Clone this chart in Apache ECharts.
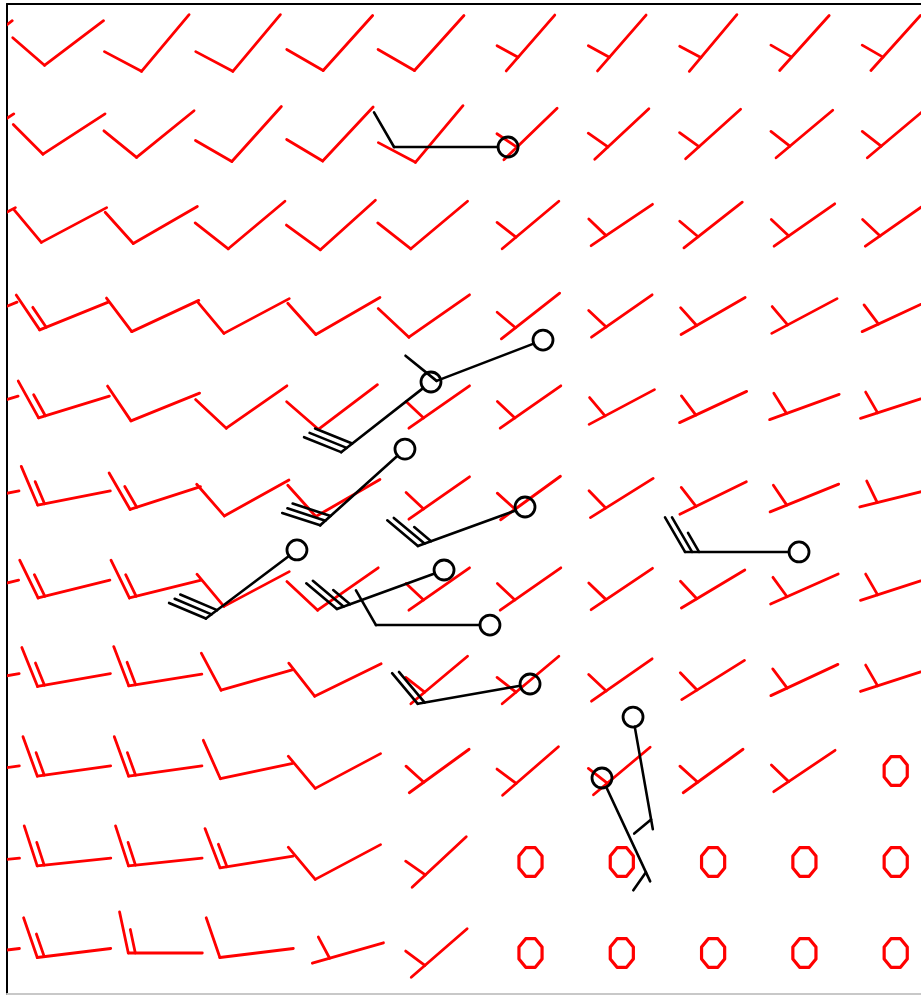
<!DOCTYPE html>
<html>
<head>
<meta charset="utf-8">
<script src="https://cdn.jsdelivr.net/npm/echarts@6/dist/echarts.min.js"></script>
<style>
html,body{margin:0;padding:0;background:#fff;}
#main{width:921px;height:996px;}
</style>
</head>
<body>
<div id="main"></div>
<script>
// Grid columns (0 is the partly hidden column at the left edge) and rows
const gridCols = [0, 1, 2, 3, 4, 5, 6, 7, 8, 9, 10];
const gridRows = [1, 2, 3, 4, 5, 6, 7, 8, 9, 10, 11];

// Model wind speed (kt) per row, columns 0..10 (0 = calm)
const gridSpeed = [
  [10, 10, 10, 10, 10, 10, 5, 5, 5, 5, 5],
  [10, 10, 10, 10, 10, 10, 5, 5, 5, 5, 5],
  [10, 10, 10, 10, 10, 10, 5, 5, 5, 5, 5],
  [15, 15, 10, 10, 10, 10, 5, 5, 5, 5, 5],
  [15, 15, 10, 10, 10, 5, 5, 5, 5, 5, 5],
  [15, 15, 15, 10, 10, 5, 5, 5, 5, 5, 5],
  [15, 15, 15, 10, 10, 5, 5, 5, 5, 5, 5],
  [15, 15, 15, 10, 10, 5, 5, 5, 5, 5, 5],
  [15, 15, 15, 10, 10, 5, 5, 5, 5, 5, 0],
  [15, 15, 15, 15, 10, 5, 0, 0, 0, 0, 0],
  [15, 15, 15, 10, 5, 5, 0, 0, 0, 0, 0]
];

// Model wind direction (degrees, direction wind blows from) per row
const gridDir = [
  [233, 233, 220, 220, 222, 222, 221, 221, 220, 222, 222],
  [237, 237, 231, 222, 223, 220, 226, 227, 228, 230, 230],
  [242, 242, 240, 230, 228, 230, 230, 236, 232, 235, 235],
  [248, 248, 245, 242, 240, 235, 232, 235, 240, 242, 245],
  [253, 253, 248, 235, 233, 235, 235, 242, 245, 250, 252],
  [259, 259, 252, 241, 240, 235, 234, 238, 244, 248, 256],
  [256, 256, 256, 242, 235, 235, 235, 236, 239, 246, 252],
  [260, 260, 261, 254, 244, 230, 230, 235, 238, 245, 252],
  [262, 262, 262, 258, 242, 234, 229, 230, 234, 236, 0],
  [264, 264, 264, 261, 242, 227, 0, 0, 0, 0, 0],
  [263, 263, 270, 263, 254, 229, 0, 0, 0, 0, 0]
];

// Observed stations (position in grid units, wind from, speed kt)
const stationCol   = [5.754, 6.137, 4.910, 4.625, 5.940, 3.442, 5.053, 5.556, 5.995, 8.941, 7.123, 6.783];
const stationRow   = [2.143, 4.264, 4.725, 5.462, 6.099, 6.571, 6.791, 7.396, 8.044, 6.593, 8.407, 9.077];
const stationDir   = [270, 249, 232, 228, 250, 233, 250, 270, 260, 270, 170, 155];
const stationSpeed = [10, 10, 30, 30, 25, 30, 25, 10, 20, 25, 5, 5];

// Build data tables
const gridData = [];
gridRows.forEach((r, ri) => {
  gridCols.forEach((c, ci) => {
    gridData.push([c, r, gridSpeed[ri][ci], gridDir[ri][ci]]);
  });
});
const stationData = stationCol.map((c, i) => [c, stationRow[i], stationSpeed[i], stationDir[i]]);

function barbLines(sx, sy, ux, uy, startD, endD, spd, opt) {
  const px = -uy, py = ux;
  const ca = Math.cos(opt.ang), sa = Math.sin(opt.ang);
  const bx = ca * ux + sa * px, by = ca * uy + sa * py;
  const shapes = [];
  shapes.push([sx + startD * ux, sy + startD * uy, sx + endD * ux, sy + endD * uy]);
  let n = Math.floor(spd / 10);
  const half = (spd % 10) >= 5;
  let d = endD;
  for (let k = 0; k < n; k++) {
    const ax = sx + d * ux, ay = sy + d * uy;
    shapes.push([ax, ay, ax + opt.full * bx, ay + opt.full * by]);
    d -= opt.sp;
  }
  if (half) {
    if (n === 0) d = endD - opt.lone;
    const ax = sx + d * ux, ay = sy + d * uy;
    shapes.push([ax, ay, ax + opt.half * bx, ay + opt.half * by]);
  }
  return shapes;
}

function renderGrid(params, api) {
  const c = api.coord([api.value(0), api.value(1)]);
  const spd = api.value(2), dir = api.value(3);
  if (!spd) {
    const pts = [];
    for (let k = 0; k < 8; k++) {
      const a = (k + 0.5) * Math.PI / 4;
      pts.push([c[0] + 12.5 * Math.cos(a), c[1] + 15.5 * Math.sin(a)]);
    }
    return {type: 'polygon', shape: {points: pts}, style: {fill: 'none', stroke: '#f00', lineWidth: 3.2, lineJoin: 'round'}};
  }
  const rad = dir * Math.PI / 180;
  const ux = Math.sin(rad), uy = -Math.cos(rad);
  const L = 37;
  const lines = barbLines(c[0], c[1], ux, uy, -L, L, spd,
    {ang: 78 * Math.PI / 180, full: 42, half: 24, sp: 7, lone: 18});
  return {
    type: 'group',
    children: lines.map(s => ({type: 'line', shape: {x1: s[0], y1: s[1], x2: s[2], y2: s[3]},
      style: {stroke: '#f00', lineWidth: 2.8, lineCap: 'round'}}))
  };
}

function renderStation(params, api) {
  const c = api.coord([api.value(0), api.value(1)]);
  const spd = api.value(2), dir = api.value(3);
  const rad = dir * Math.PI / 180;
  const ux = Math.sin(rad), uy = -Math.cos(rad);
  const lines = barbLines(c[0], c[1], ux, uy, 10, 114, spd,
    {ang: 60 * Math.PI / 180, full: 40, half: 22, sp: 7, lone: 10});
  const children = lines.map(s => ({type: 'line', shape: {x1: s[0], y1: s[1], x2: s[2], y2: s[3]},
    style: {stroke: '#000', lineWidth: 2.6, lineCap: 'round'}}));
  children.push({type: 'circle', shape: {cx: c[0], cy: c[1], r: 10}, style: {fill: 'none', stroke: '#000', lineWidth: 2.8}});
  return {type: 'group', children};
}

const chart = echarts.init(document.getElementById('main'));
chart.setOption({
  animation: false,
  backgroundColor: '#fff',
  grid: {left: 7, top: 4, right: 0, bottom: 2},
  xAxis: [
    {type: 'value', min: 0.2662, max: 10.277, position: 'bottom',
     axisLine: {show: true, onZero: false, lineStyle: {color: '#c8c8c8', width: 2}},
     axisTick: {show: false}, axisLabel: {show: false}, splitLine: {show: false}},
    {type: 'value', min: 0.2662, max: 10.277, position: 'top',
     axisLine: {show: true, onZero: false, lineStyle: {color: '#000', width: 2}},
     axisTick: {show: false}, axisLabel: {show: false}, splitLine: {show: false}}
  ],
  yAxis: {type: 'value', inverse: true, min: 0.5714, max: 11.4505, position: 'left',
     axisLine: {show: true, onZero: false, lineStyle: {color: '#000', width: 2}},
     axisTick: {show: false}, axisLabel: {show: false}, splitLine: {show: false}},
  series: [
    {type: 'custom', renderItem: renderGrid, data: gridData, clip: true, silent: true, z: 2},
    {type: 'custom', renderItem: renderStation, data: stationData, clip: true, silent: true, z: 3}
  ]
});
</script>
</body>
</html>
